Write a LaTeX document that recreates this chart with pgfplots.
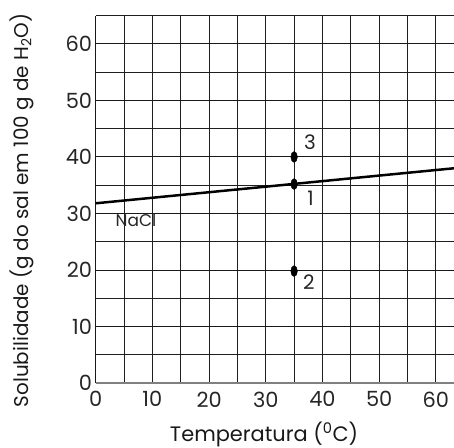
\documentclass[border=0pt]{standalone}
\usepackage{fontspec}
\setmainfont{Poppins}
\usepackage{pgfplots}
\pgfplotsset{compat=1.18}
\usetikzlibrary{calc}

\begin{document}
\begin{tikzpicture}
\begin{axis}[name=ax, scale only axis,
    width=358.3bp, height=367.3bp,
    xmin=0, xmax=63.2, ymin=0, ymax=65,
    axis x line=bottom, axis y line=left, axis line style={-},
    x axis line style={black!50, line width=1.5pt},
    y axis line style={black!90, line width=0.9pt},
    xtick={0,10,...,60}, ytick={0,10,...,60},
    minor xtick={5,15,...,55}, minor ytick={5,15,...,65},
    grid=both,
    major x grid style={black!88, line width=0.8pt},
    minor x grid style={black!88, line width=0.8pt},
    major y grid style={black!90, line width=0.95pt},
    minor y grid style={black!88, line width=0.8pt},
    tick style={draw=none},
    /pgf/number format/assume math mode=true,
    tick label style={font=\fontsize{21}{24}\selectfont, text=black!85},
    yticklabel style={xshift=2bp},
    xticklabel style={yshift=-3bp},
    xlabel={Temperatura (\textsuperscript{0}C)},
    ylabel={Solubilidade (g do sal em 100 g de H\textsubscript{2}O)},
    xlabel style={font=\fontsize{21}{24}\selectfont, text=black!90,
        at={(rel axis cs:0.47,0)}, anchor=center, yshift=-51bp},
    ylabel style={font=\fontsize{20}{24}\selectfont, text=black!90,
        at={(rel axis cs:0,0.47)}, anchor=center, yshift=74bp},
    clip=false]
\addplot[black, line width=2.5pt] coordinates {(0,31.8) (63.2,38.0)};
\addplot[only marks, mark=*, mark size=5.5pt, mark options={xscale=0.6, fill=black}]
    coordinates {(35,40) (35,35.2) (35,19.8)};
\node[font=\fontsize{20}{24}\selectfont, text=black!85] at (axis cs:37.8,42.6) {3};
\node[font=\fontsize{20}{24}\selectfont, text=black!85] at (axis cs:37.9,32.7) {1};
\node[font=\fontsize{20}{24}\selectfont, text=black!85] at (axis cs:37.6,17.9) {2};
\node[font=\fontsize{17}{20}\selectfont, text=black!85] at (axis cs:7.1,28.8) {NaCl};
\end{axis}
\pgfresetboundingbox
\path[use as bounding box] ($(ax.south west)+(-95.7bp,-65bp)$) rectangle ($(ax.north east)+(0,15.7bp)$);
\end{tikzpicture}
\end{document}
